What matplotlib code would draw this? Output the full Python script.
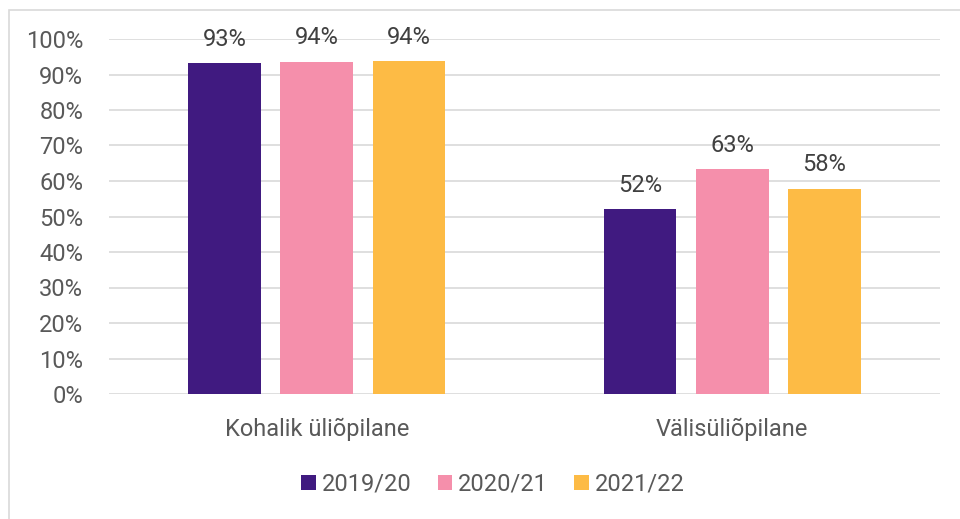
import numpy as np
import matplotlib
matplotlib.use("Agg")
import matplotlib.pyplot as plt
from matplotlib.patches import Rectangle

plt.rcParams['font.family'] = ['Roboto', 'DejaVu Sans']

categories = ['Kohalik üliõpilane', 'Välisüliõpilane']
years = ['2019/20', '2020/21', '2021/22']
values = [
    [0.932, 0.521],
    [0.936, 0.633],
    [0.937, 0.578],
]
colors = ['#401A80', '#F58FAB', '#FDBB45']
text_color = '#595959'
label_color = '#404040'
grid_color = '#D9D9D9'
fsize = 17

fig = plt.figure(figsize=(9.6, 5.19), dpi=100)
ax = fig.add_axes([109 / 960, 1 - 394 / 519, 831 / 960, 355 / 519])

# light frame around the chart area (cut off at the right and bottom)
fig.patches.append(Rectangle((9 / 960, -0.05), 1.2, 1 - 10 / 519 + 0.05,
                             transform=fig.transFigure, fill=False,
                             edgecolor=grid_color, linewidth=1.2))

x = np.arange(len(categories))
width = 0.1745
step = 0.222
for i, (year, vals) in enumerate(zip(years, values)):
    pos = x + (i - 1) * step
    bars = ax.bar(pos, vals, width, color=colors[i], label=year, zorder=3)
    for b, v in zip(bars, vals):
        ax.annotate(f"{v * 100:.0f}%", (b.get_x() + b.get_width() / 2, v),
                    xytext=(0, 9), textcoords='offset points',
                    ha='center', va='bottom', fontsize=fsize, color=label_color)

ax.set_xlim(-0.5, 1.5)
ax.set_ylim(0, 1)
ax.set_yticks(np.arange(0, 1.01, 0.1))
ax.set_yticklabels([f"{t}%" for t in range(0, 101, 10)])
ax.set_xticks(x)
ax.set_xticklabels(categories)
ax.tick_params(axis='y', length=0, pad=18.5, labelsize=fsize, labelcolor=text_color)
ax.tick_params(axis='x', length=0, pad=17, labelsize=fsize, labelcolor=text_color)
ax.grid(axis='y', color=grid_color, linewidth=1.2, zorder=0)
for s in ax.spines.values():
    s.set_visible(False)

fig.legend(loc='center', bbox_to_anchor=(493 / 960, 1 - 484 / 519), ncol=3,
           frameon=False, fontsize=fsize, labelcolor=text_color,
           handlelength=0.62, handleheight=0.62, handletextpad=0.25,
           columnspacing=1.1)

fig.savefig('out.png', dpi=100, facecolor='white')
